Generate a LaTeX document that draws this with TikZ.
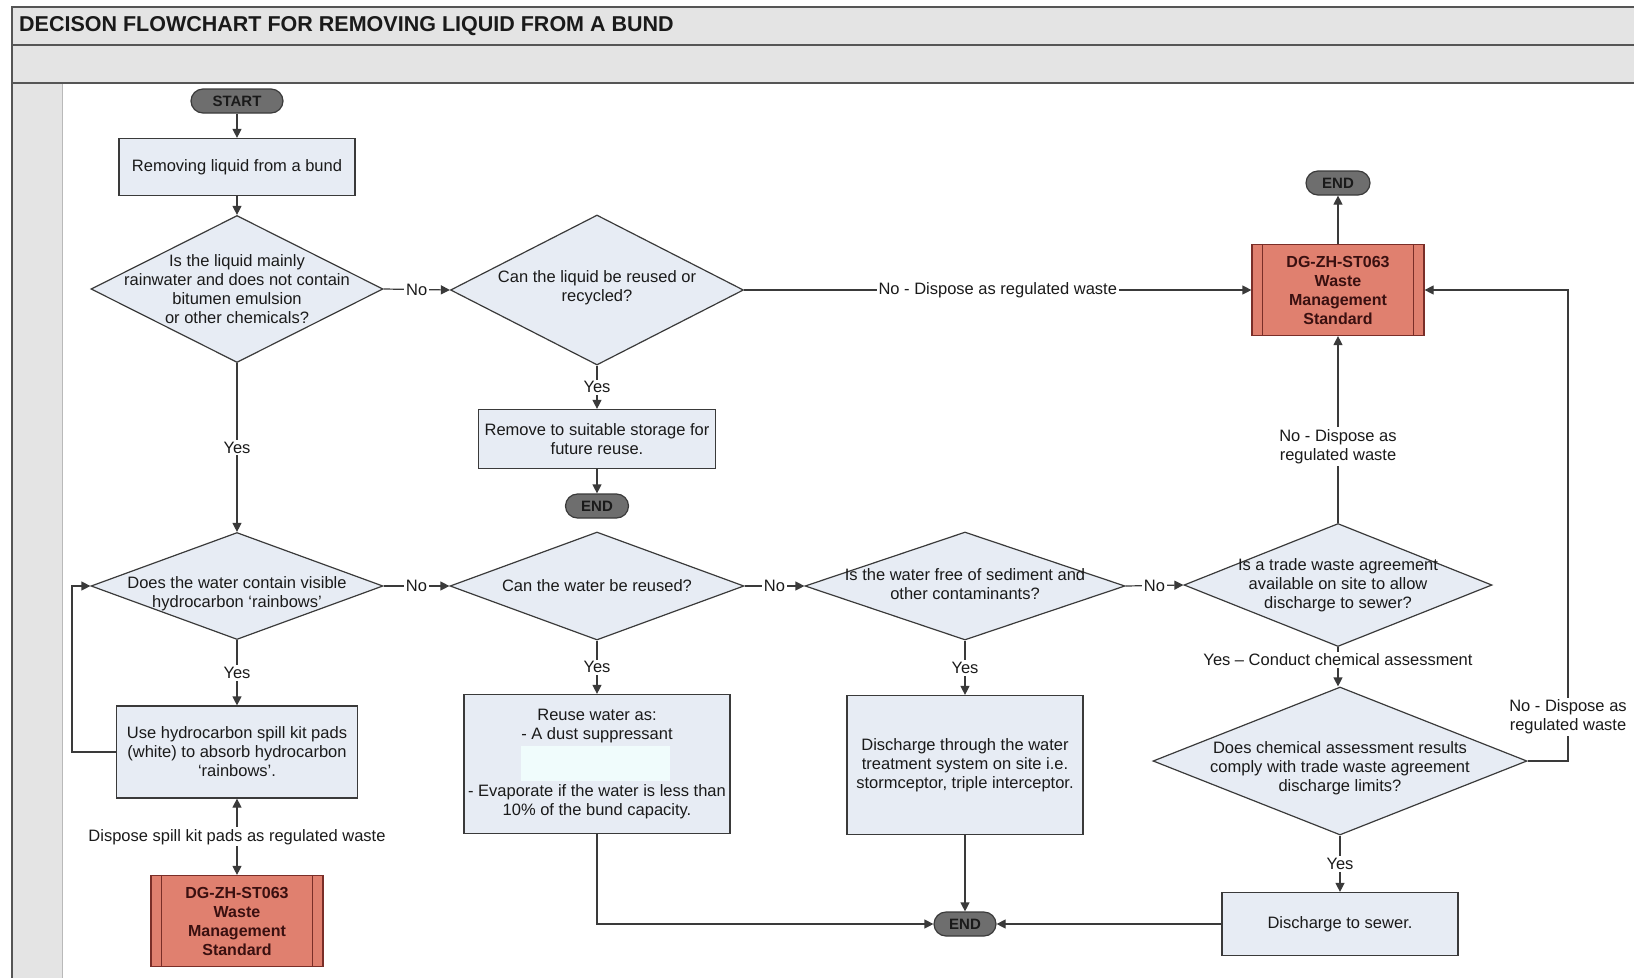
\documentclass[tikz,border=0pt]{standalone}
\usepackage{fontspec}
\setmainfont{Liberation Sans}
\usetikzlibrary{shapes.geometric,arrows.meta}
\definecolor{boxfill}{HTML}{E7ECF4}
\definecolor{linec}{HTML}{3A3A3A}
\definecolor{hdr}{HTML}{E4E4E4}
\definecolor{hdrline}{HTML}{555555}
\definecolor{wmsfill}{HTML}{E0806F}
\definecolor{wmsline}{HTML}{7A2E28}
\definecolor{wmstext}{HTML}{3A1010}
\definecolor{pillfill}{HTML}{6E6E6E}
\definecolor{pillline}{HTML}{3A3A3A}
\definecolor{cyanish}{HTML}{F0FCFC}
\definecolor{txtc}{HTML}{1A1A1A}
\tikzset{
 txt/.style={font=\fontsize{16.5}{19}\selectfont, text=txtc},
 proc/.style={draw=linec, line width=1.2pt, fill=boxfill, rectangle, inner sep=0pt, align=center, txt},
 dia/.style={draw=linec, line width=1.2pt, fill=boxfill, diamond, inner sep=0pt},
 dtext/.style={txt, align=center, inner sep=0pt},
 wms/.style={draw=wmsline, line width=1.2pt, fill=wmsfill, rectangle, inner sep=0pt, align=center, font=\fontsize{16}{19}\selectfont\bfseries, text=wmstext, minimum width=172pt, minimum height=91pt},
 wmsbar/.style={draw=wmsline, line width=1.2pt},
 pill/.style={draw=pillline, line width=1.2pt, fill=pillfill, rectangle, rounded corners=12pt, inner sep=0pt, font=\fontsize{15}{18}\selectfont\bfseries, text=txtc, minimum height=24pt},
 conn/.style={draw=linec, line width=1.2pt, -{Triangle[length=9pt,width=9pt]}},
 conn2/.style={draw=linec, line width=1.2pt, {Triangle[length=9pt,width=9pt]}-{Triangle[length=9pt,width=9pt]}},
 lab/.style={txt, fill=white, inner sep=2pt, align=center},
}
\begin{document}
\begin{tikzpicture}[x=1pt,y=-1pt]
\useasboundingbox (0,0) rectangle (1634,978);
% frame
\fill[hdr] (12,7) rectangle (1634,83);
\fill[hdr] (12,83) rectangle (62,978);
\draw[gray!55, line width=1pt] (62,83) -- (62,978);
\draw[hdrline, line width=2pt] (12,7) -- (1634,7);
\draw[hdrline, line width=2pt] (12,45) -- (1634,45);
\draw[hdrline, line width=2pt] (12,83) -- (1634,83);
\draw[hdrline, line width=2pt] (12,6) -- (12,978);
\node[anchor=west, inner sep=0pt, font=\fontsize{21.5}{24}\selectfont\bfseries, text=txtc] (title) at (19,26) {DECISON FLOWCHART FOR REMOVING LIQUID FROM A BUND};

% terminals
\node[pill, minimum width=92pt] (start) at (237,101) {START};
\node[pill, minimum width=63pt] (e1) at (597,506) {END};
\node[pill, minimum width=64pt] (e2) at (1338,183) {END};
\node[pill, minimum width=62pt] (e3) at (965,924) {END};

% process boxes
\node[proc, minimum width=236pt, minimum height=57pt] (b1) at (237,167) {Removing liquid from a bund};
\node[proc, minimum width=237pt, minimum height=59pt] (b2) at (597,439) {Remove to suitable storage for\\future reuse.};
\node[proc, minimum width=241pt, minimum height=92pt] (b3) at (237,752) {Use hydrocarbon spill kit pads\\(white) to absorb hydrocarbon\\`rainbows'.};
\node[proc, minimum width=266pt, minimum height=139pt] (b4) at (597,764) {Reuse water as:\\- A dust suppressant\\[38pt]- Evaporate if the water is less than\\10\% of the bund capacity.};
\fill[cyanish] (521,746) rectangle (670,781);
\node[proc, minimum width=236pt, minimum height=139pt] (b5) at (965,765) {Discharge through the water\\treatment system on site i.e.\\stormceptor, triple interceptor.};
\node[proc, minimum width=236pt, minimum height=63pt] (b6) at (1340,924) {Discharge to sewer.};

% standards
\node[wms] (w1) at (1338,290) {DG-ZH-ST063\\Waste\\Management\\Standard};
\draw[wmsbar] ([xshift=11pt]w1.north west) -- ([xshift=11pt]w1.south west);
\draw[wmsbar] ([xshift=-11pt]w1.north east) -- ([xshift=-11pt]w1.south east);
\node[wms] (w2) at (237,921) {DG-ZH-ST063\\Waste\\Management\\Standard};
\draw[wmsbar] ([xshift=11pt]w2.north west) -- ([xshift=11pt]w2.south west);
\draw[wmsbar] ([xshift=-11pt]w2.north east) -- ([xshift=-11pt]w2.south east);

% decisions
\node[dia, minimum width=292pt, minimum height=147pt] (d1) at (237,289) {};
\node[dtext] (d1t) at (237,289) {Is the liquid mainly\\rainwater and does not contain\\bitumen emulsion\\or other chemicals?};
\node[dia, minimum width=293pt, minimum height=150pt] (d2) at (597,290) {};
\node[dtext] (d2t) at (597,288) {Can the liquid be reused or\\recycled?};
\node[dia, minimum width=292pt, minimum height=107pt] (d3) at (237,586) {};
\node[dtext] (d3t) at (237,594) {Does the water contain visible\\hydrocarbon `rainbows'};
\node[dia, minimum width=294pt, minimum height=108pt] (d4) at (597,586) {};
\node[dtext] (d4t) at (597,586) {Can the water be reused?};
\node[dia, minimum width=320pt, minimum height=108pt] (d5) at (965,586) {};
\node[dtext] (d5t) at (965,584) {Is the water free of sediment and\\other contaminants?};
\node[dia, minimum width=308pt, minimum height=123pt] (d6) at (1338,585) {};
\node[dtext] (d6t) at (1338,585) {Is a trade waste agreement\\available on site to allow\\discharge to sewer?};
\node[dia, minimum width=374pt, minimum height=148pt] (d7) at (1340,761) {};
\node[dtext] (d7t) at (1340,768) {Does chemical assessment results\\comply with trade waste agreement\\discharge limits?};

\coordinate (rx) at (1568,0);
\coordinate (lx) at (72,0);

% connectors
\draw[conn] (start) -- (b1);
\draw[conn] (b1) -- (d1);
\draw[conn] (d1.east) -- node[lab] {No} (d2.west);
\draw[conn] (d1.south) -- node[lab] {Yes} (d3.north);
\draw[conn] (d2.south) -- node[lab] {Yes} (b2.north);
\draw[conn] (b2) -- (e1);
\draw[conn] (d2.east) -- node[lab] {No - Dispose as regulated waste} (w1.west);
\draw[conn] (w1) -- (e2);
\draw[conn] (d3.east) -- node[lab] {No} (d4.west);
\draw[conn] (d3.south) -- node[lab] {Yes} (b3.north);
\draw[conn] (b3.west) -- (b3.west -| lx) -- (d3.west -| lx) -- (d3.west);
\draw[conn2] (b3.south) -- node[lab] {Dispose spill kit pads as regulated waste} (w2.north);
\draw[conn] (d4.east) -- node[lab] {No} (d5.west);
\draw[conn] (d4.south) -- node[lab] {Yes} (b4.north);
\draw[conn] (d5.east) -- node[lab] {No} (d6.west);
\draw[conn] (d5.south) -- node[lab] {Yes} (b5.north);
\draw[conn] (d6.north) -- node[lab, pos=0.41] {No - Dispose as\\regulated waste} (w1.south);
\draw[conn] (d6.south) -- node[lab, pos=0.33] {Yes -- Conduct chemical assessment} (d6.south |- d7.north);
\draw[conn] (d7.east) -- (d7.east -| rx) -- node[lab, pos=0.093] {No - Dispose as\\regulated waste} (w1.east -| rx) -- (w1.east);
\draw[conn] (d7.south) -- node[lab] {Yes} (b6.north);
\draw[conn] (b4.south) |- (e3.west);
\draw[conn] (b5.south) -- (e3.north);
\draw[conn] (b6.west) -- (e3.east);
\end{tikzpicture}
\end{document}
